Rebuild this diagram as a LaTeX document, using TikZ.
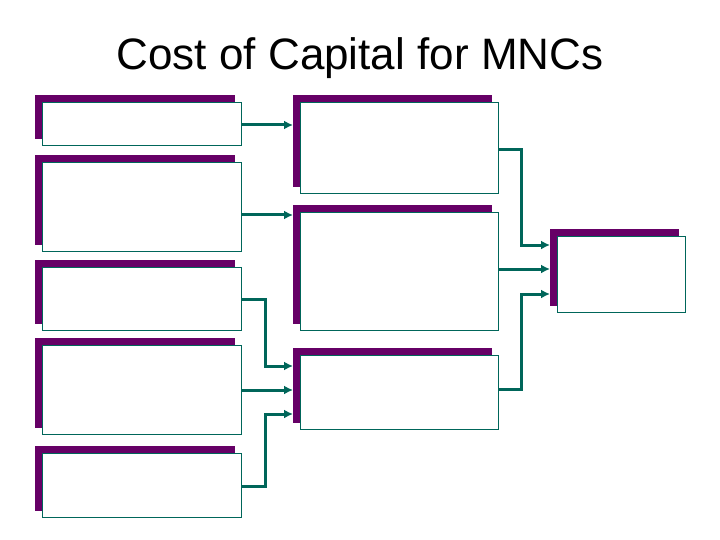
\documentclass[tikz,border=0pt]{standalone}
\usepackage{fontspec}
\setmainfont{Liberation Sans}
\usetikzlibrary{arrows.meta}
\definecolor{pur}{RGB}{102,0,102}
\definecolor{teal2}{RGB}{0,102,90}
\begin{document}
\begin{tikzpicture}[x=1pt,y=-1pt,
  wbox/.style={draw=teal2,fill=white,line width=0.8pt},
  conn/.style={draw=teal2,line width=3pt,-{Latex[length=9pt,width=9pt]}}]
\useasboundingbox (0,0) rectangle (720,540);
\node at (360,58) {\fontsize{44}{48}\selectfont Cost of Capital for MNCs};
\foreach \n/\xa/\ya/\xb/\yb in {l1/42/102/241/145, l2/42/162/241/251, l3/42/267/241/330, l4/42/345/241/434, l5/42/453/241/517, m1/300/102/498/193, m2/300/212/498/330, m3/300/355/498/429, r1/557/236/685/312}{
  \fill[pur] (\xa-7,\ya-7) rectangle (\xb-6,\yb-6);
  \draw[wbox] (\xa,\ya) rectangle (\xb,\yb);
  \coordinate (\n-nw) at (\xa,\ya);
}
\coordinate (l1e) at (241,125); \coordinate (m1w) at (293,125);
\coordinate (l2e) at (241,215); \coordinate (m2w) at (293,215);
\coordinate (l3e) at (241,299); \coordinate (m3a) at (293,366);
\coordinate (l4e) at (241,390); \coordinate (m3b) at (293,390);
\coordinate (l5e) at (241,486); \coordinate (m3c) at (293,414);
\coordinate (m1e) at (498,150); \coordinate (r1a) at (550,245);
\coordinate (m2e) at (498,269); \coordinate (r1b) at (550,269);
\coordinate (m3e) at (498,389); \coordinate (r1c) at (550,294);
\draw[conn] (l1e) -- (m1w);
\draw[conn] (l2e) -- (m2w);
\draw[conn] (l3e) -| (265,366) -- (m3a);
\draw[conn] (l4e) -- (m3b);
\draw[conn] (l5e) -| (265,414) -- (m3c);
\draw[conn] (m1e) -| (521,245) -- (r1a);
\draw[conn] (m2e) -- (r1b);
\draw[conn] (m3e) -| (521,294) -- (r1c);
\end{tikzpicture}
\end{document}
